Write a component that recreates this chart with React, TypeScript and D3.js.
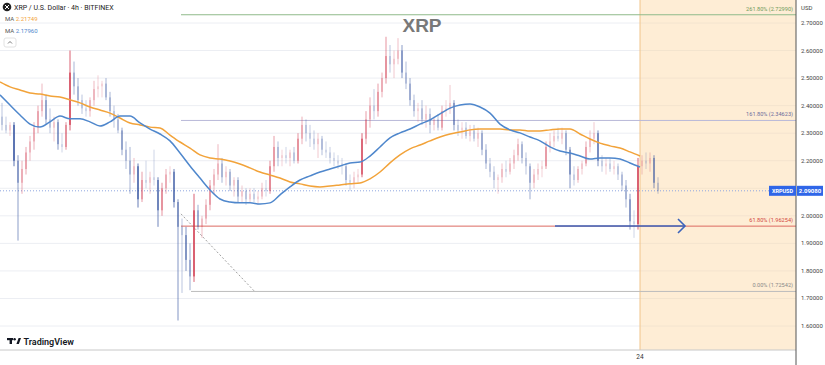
import * as d3 from "d3";
import { useEffect } from "react";

// 4h candles, oldest first: [open, high, low, close]
const candles: [number, number, number, number][] = [
  [2.36, 2.41, 2.31, 2.33], [2.33, 2.36, 2.30, 2.31], [2.31, 2.34, 2.29, 2.33], [2.33, 2.34, 2.18, 2.20], [2.20, 2.22, 1.91, 2.12],
  [2.12, 2.20, 2.08, 2.17], [2.17, 2.25, 2.15, 2.23], [2.23, 2.29, 2.20, 2.27], [2.27, 2.34, 2.24, 2.32], [2.32, 2.40, 2.30, 2.38],
  [2.38, 2.48, 2.36, 2.42], [2.42, 2.44, 2.33, 2.35], [2.35, 2.39, 2.30, 2.32], [2.32, 2.36, 2.27, 2.34], [2.34, 2.35, 2.24, 2.26],
  [2.26, 2.30, 2.23, 2.25], [2.25, 2.34, 2.24, 2.33], [2.33, 2.60, 2.31, 2.52], [2.52, 2.56, 2.44, 2.47], [2.47, 2.50, 2.40, 2.42],
  [2.42, 2.44, 2.37, 2.39], [2.39, 2.42, 2.36, 2.38], [2.38, 2.43, 2.36, 2.42], [2.42, 2.49, 2.40, 2.46], [2.46, 2.51, 2.43, 2.47],
  [2.47, 2.49, 2.43, 2.48], [2.48, 2.50, 2.42, 2.43], [2.43, 2.45, 2.36, 2.38], [2.38, 2.40, 2.32, 2.35], [2.35, 2.37, 2.30, 2.31],
  [2.31, 2.32, 2.22, 2.24], [2.24, 2.27, 2.17, 2.20], [2.20, 2.25, 2.08, 2.15], [2.15, 2.21, 2.12, 2.18], [2.18, 2.19, 2.03, 2.06],
  [2.06, 2.16, 2.05, 2.13], [2.13, 2.20, 2.10, 2.12], [2.12, 2.16, 2.08, 2.14], [2.14, 2.24, 2.11, 2.13], [2.13, 2.14, 1.96, 2.02],
  [2.02, 2.12, 2.00, 2.10], [2.10, 2.17, 2.08, 2.15], [2.15, 2.18, 2.12, 2.16], [2.16, 2.17, 2.03, 2.05], [2.05, 2.06, 1.62, 1.96],
  [1.96, 1.99, 1.72, 1.93], [1.93, 1.96, 1.80, 1.84], [1.84, 1.90, 1.73, 1.78], [1.78, 2.08, 1.76, 2.02], [2.02, 2.04, 1.95, 1.96],
  [1.96, 2.00, 1.92, 1.99], [1.99, 2.06, 1.97, 2.04], [2.04, 2.13, 2.02, 2.11], [2.11, 2.17, 2.08, 2.15], [2.15, 2.26, 2.13, 2.19],
  [2.19, 2.21, 2.12, 2.14], [2.14, 2.18, 2.11, 2.16], [2.16, 2.17, 2.09, 2.11], [2.11, 2.14, 2.07, 2.13], [2.13, 2.14, 2.05, 2.07],
  [2.07, 2.11, 2.05, 2.09], [2.09, 2.10, 2.04, 2.06], [2.06, 2.10, 2.05, 2.08], [2.08, 2.10, 2.05, 2.06], [2.06, 2.09, 2.04, 2.07],
  [2.07, 2.12, 2.06, 2.10], [2.10, 2.13, 2.07, 2.09], [2.09, 2.20, 2.08, 2.18], [2.18, 2.29, 2.16, 2.25], [2.25, 2.27, 2.18, 2.21],
  [2.21, 2.24, 2.18, 2.22], [2.22, 2.25, 2.19, 2.21], [2.21, 2.24, 2.18, 2.23], [2.23, 2.25, 2.19, 2.20], [2.20, 2.30, 2.19, 2.28],
  [2.28, 2.36, 2.26, 2.33], [2.33, 2.35, 2.27, 2.30], [2.30, 2.33, 2.25, 2.28], [2.28, 2.31, 2.24, 2.26], [2.26, 2.30, 2.21, 2.28],
  [2.28, 2.29, 2.22, 2.24], [2.24, 2.27, 2.21, 2.23], [2.23, 2.25, 2.19, 2.21], [2.21, 2.23, 2.18, 2.20], [2.20, 2.22, 2.17, 2.19],
  [2.19, 2.21, 2.15, 2.18], [2.18, 2.19, 2.11, 2.13], [2.13, 2.15, 2.09, 2.12], [2.12, 2.16, 2.10, 2.14], [2.14, 2.17, 2.12, 2.15],
  [2.15, 2.30, 2.14, 2.28], [2.28, 2.38, 2.26, 2.35], [2.35, 2.43, 2.32, 2.40], [2.40, 2.46, 2.35, 2.38], [2.38, 2.48, 2.36, 2.45],
  [2.45, 2.52, 2.43, 2.50], [2.50, 2.65, 2.48, 2.58], [2.58, 2.62, 2.52, 2.55], [2.55, 2.60, 2.50, 2.57], [2.57, 2.645, 2.55, 2.60],
  [2.60, 2.62, 2.50, 2.52], [2.52, 2.56, 2.46, 2.48], [2.48, 2.50, 2.40, 2.42], [2.42, 2.44, 2.36, 2.38], [2.38, 2.41, 2.34, 2.39],
  [2.39, 2.42, 2.33, 2.35], [2.35, 2.40, 2.32, 2.37], [2.37, 2.39, 2.30, 2.33], [2.33, 2.36, 2.31, 2.35], [2.35, 2.37, 2.31, 2.32],
  [2.32, 2.40, 2.31, 2.38], [2.38, 2.42, 2.36, 2.39], [2.39, 2.475, 2.37, 2.41], [2.41, 2.42, 2.31, 2.33], [2.33, 2.35, 2.29, 2.31],
  [2.31, 2.34, 2.28, 2.32], [2.32, 2.34, 2.28, 2.29], [2.29, 2.33, 2.27, 2.31], [2.31, 2.33, 2.27, 2.28], [2.28, 2.32, 2.25, 2.30],
  [2.30, 2.31, 2.22, 2.24], [2.24, 2.26, 2.17, 2.19], [2.19, 2.21, 2.14, 2.16], [2.16, 2.18, 2.10, 2.13], [2.13, 2.15, 2.08, 2.14],
  [2.14, 2.19, 2.12, 2.17], [2.17, 2.20, 2.14, 2.16], [2.16, 2.21, 2.15, 2.19], [2.19, 2.24, 2.17, 2.22], [2.22, 2.28, 2.20, 2.26],
  [2.26, 2.27, 2.19, 2.21], [2.21, 2.23, 2.15, 2.18], [2.18, 2.19, 2.06, 2.12], [2.12, 2.17, 2.10, 2.15], [2.15, 2.19, 2.13, 2.17],
  [2.17, 2.20, 2.14, 2.18], [2.18, 2.27, 2.17, 2.25], [2.25, 2.30, 2.23, 2.27], [2.27, 2.31, 2.25, 2.29], [2.29, 2.32, 2.27, 2.28],
  [2.28, 2.32, 2.26, 2.30], [2.30, 2.31, 2.22, 2.24], [2.24, 2.25, 2.10, 2.15], [2.15, 2.18, 2.11, 2.13], [2.13, 2.18, 2.12, 2.17],
  [2.17, 2.20, 2.15, 2.19], [2.19, 2.27, 2.18, 2.25], [2.25, 2.31, 2.23, 2.28], [2.28, 2.34, 2.26, 2.30], [2.30, 2.31, 2.18, 2.20],
  [2.20, 2.22, 2.16, 2.18], [2.18, 2.21, 2.15, 2.19], [2.19, 2.21, 2.16, 2.17], [2.17, 2.20, 2.15, 2.18], [2.18, 2.19, 2.13, 2.15],
  [2.15, 2.16, 2.09, 2.11], [2.11, 2.13, 2.03, 2.06], [2.06, 2.08, 1.95, 1.98], [1.98, 2.02, 1.92, 1.97], [1.97, 2.21, 1.95, 2.18],
  [2.18, 2.22, 2.15, 2.20], [2.20, 2.23, 2.17, 2.19], [2.19, 2.23, 2.16, 2.21], [2.21, 2.22, 2.10, 2.12], [2.12, 2.14, 2.08, 2.09],
];

// moving averages, one reading every 2.5 candles
const maSlow = [
  2.486, 2.468, 2.457, 2.446, 2.442, 2.435, 2.431, 2.421, 2.410, 2.395,
  2.384, 2.373, 2.355, 2.337, 2.330, 2.322, 2.319, 2.293, 2.268, 2.246,
  2.221, 2.210, 2.206, 2.199, 2.188, 2.174, 2.159, 2.148, 2.137, 2.123,
  2.116, 2.108, 2.105, 2.108, 2.112, 2.116, 2.119, 2.134, 2.159, 2.192,
  2.221, 2.243, 2.257, 2.272, 2.286, 2.297, 2.304, 2.312, 2.315, 2.315,
  2.315, 2.312, 2.312, 2.308, 2.308, 2.312, 2.315, 2.315, 2.297, 2.279,
  2.264, 2.254, 2.246, 2.232, 2.217,
];
const maFast = [
  2.439, 2.402, 2.366, 2.333, 2.322, 2.341, 2.362, 2.352, 2.352, 2.341,
  2.326, 2.341, 2.362, 2.362, 2.337, 2.315, 2.297, 2.272, 2.228, 2.181,
  2.137, 2.094, 2.061, 2.050, 2.047, 2.047, 2.043, 2.047, 2.076, 2.105,
  2.130, 2.145, 2.159, 2.170, 2.181, 2.192, 2.195, 2.217, 2.250, 2.283,
  2.301, 2.315, 2.333, 2.348, 2.370, 2.391, 2.402, 2.406, 2.395, 2.373,
  2.333, 2.312, 2.301, 2.286, 2.272, 2.250, 2.235, 2.228, 2.217, 2.206,
  2.210, 2.210, 2.206, 2.192, 2.177,
];
const maLegend = ["2.21749", "2.17960"];

const priceTicks = [1.6, 1.7, 1.8, 1.9, 2.0, 2.1, 2.2, 2.3, 2.4, 2.5, 2.6, 2.7];
const timeTicks = [{ index: 159.5, label: "24" }];
const sessionStart = 159.5;

const lastPrice = 2.0908;

const fibNames = ["261.80%", "161.80%", "61.80%", "0.00%"];
const fibValues = [2.7299, 2.34623, 1.96254, 1.72542];
const fibStart = [44.75, 44.75, 44.75, 47.25];

const trendLine = [
  [44.75, 2.007],
  [63.25, 1.724],
];
const arrowLevel = 1.963;
const arrowSpan = [138.25, 170.75];

export default function App() {
  useEffect(() => {
    document.body.style.margin = "0";
  }, []);

  const W = 825;
  const H = 365;
  const plotR = 796;
  const plotB = 350;

  const x = d3.scaleLinear().domain([0, 164]).range([2, 658]);
  const y = d3.scaleLinear().domain([1.6, 2.7]).range([326, 23]);

  const maLine = d3
    .line<number>()
    .x((d, i) => x(i * 2.5 - 0.5))
    .y((d) => y(d))
    .curve(d3.curveMonotoneX);

  const fmt = d3.format(".5f");
  const font = "Roboto, 'Noto Sans', sans-serif";
  const fibStroke = ["#8fba8a", "#b8b8d8", "#dc6a62", "#bdbdbd"];
  const fibText = ["#6e9a5a", "#6c6c9c", "#d2463e", "#8a8a8a"];
  const ty = y(lastPrice);

  return (
    <svg width={W} height={H} style={{ display: "block", fontFamily: font }}>
      <rect width={W} height={H} fill="#fff" />

      {/* grid */}
      {priceTicks.map((p) => (
        <line key={p} x1={0} x2={plotR} y1={y(p)} y2={y(p)} stroke="#eceef3" />
      ))}

      {/* session shading */}
      <rect x={x(sessionStart)} y={0} width={plotR - x(sessionStart)} height={plotB} fill="#fcd6a2" opacity={0.45} />
      <line x1={x(sessionStart)} x2={x(sessionStart)} y1={0} y2={plotB} stroke="#f0c48a" />

      {/* fib levels */}
      {fibValues.map((v, i) => (
        <g key={v}>
          <line x1={x(fibStart[i])} x2={plotR} y1={y(v)} y2={y(v)} stroke={fibStroke[i]} strokeWidth={1} />
          <text x={plotR - 3} y={y(v) - 4} textAnchor="end" fontSize={5.6} fill={fibText[i]}>
            {fibNames[i]} ({v.toFixed(5)})
          </text>
        </g>
      ))}

      <line
        x1={x(trendLine[0][0])}
        y1={y(trendLine[0][1])}
        x2={x(trendLine[1][0])}
        y2={y(trendLine[1][1])}
        stroke="#a0a0a0"
        strokeDasharray="2,2"
      />

      {/* last price line */}
      <line x1={0} x2={plotR} y1={ty} y2={ty} stroke="#8ea6e0" strokeDasharray="1,2" />

      {/* candles */}
      {candles.map(([o, h, l, c], i) => {
        const up = c >= o;
        const col = up ? "#d23a50" : "#2c4c9c";
        const op = Math.min(0.8, 0.18 + Math.abs(c - o) * 4.5);
        const cx = x(i);
        const top = y(Math.max(o, c));
        const bh = Math.max(1, y(Math.min(o, c)) - top);
        return (
          <g key={i} opacity={op}>
            <line x1={cx} x2={cx} y1={y(h)} y2={y(l)} stroke={col} strokeWidth={1} />
            <rect x={cx - 1} y={top} width={2} height={bh} fill={col} />
          </g>
        );
      })}

      {/* moving averages */}
      <path d={maLine(maSlow) ?? ""} fill="none" stroke="#f2a33a" strokeWidth={1.5} />
      <path d={maLine(maFast) ?? ""} fill="none" stroke="#4f87cc" strokeWidth={1.5} />

      {/* arrow */}
      <g stroke="#3c64bc" strokeWidth={1.6} fill="none">
        <line x1={x(arrowSpan[0])} x2={x(arrowSpan[1])} y1={y(arrowLevel)} y2={y(arrowLevel)} />
        <path
          d={`M${x(arrowSpan[1]) - 7},${y(arrowLevel) - 7}L${x(arrowSpan[1])},${y(arrowLevel)}L${x(arrowSpan[1]) - 7},${y(arrowLevel) + 7}`}
        />
      </g>

      {/* title */}
      <text x={422} y={32} textAnchor="middle" fontSize={19} fontWeight={700} fill="#787878" fontFamily="'Liberation Sans', Arial, sans-serif">
        XRP
      </text>

      {/* axes */}
      <line x1={0} x2={plotR} y1={plotB} y2={plotB} stroke="#c8c8c8" />
      <line x1={plotR} x2={plotR} y1={0} y2={H} stroke="#555" />
      {priceTicks
        .filter((p) => Math.abs(y(p) - ty) > 8)
        .map((p) => (
          <text key={p} x={801} y={y(p) + 2} fontSize={6} fill="#444">
            {fmt(p)}
          </text>
        ))}
      <text x={801} y={10} fontSize={6} fill="#444">
        USD
      </text>
      {timeTicks.map((t) => (
        <text key={t.label} x={x(t.index)} y={359} fontSize={6.5} fill="#333" textAnchor="middle">
          {t.label}
        </text>
      ))}

      {/* last price label */}
      <rect x={769} y={ty - 5} width={27} height={10} fill="#2f66e8" />
      <rect x={797} y={ty - 5} width={26} height={10} fill="#2f66e8" />
      <text x={782.5} y={ty + 2} fontSize={5.5} fill="#fff" textAnchor="middle" fontWeight={700}>
        XRPUSD
      </text>
      <text x={810} y={ty + 2} fontSize={6} fill="#fff" textAnchor="middle" fontWeight={700}>
        {lastPrice.toFixed(5)}
      </text>

      {/* legend */}
      <circle cx={7} cy={7} r={4.3} fill="#222" />
      <path d="M5,5L9,9M9,5L5,9" stroke="#fff" strokeWidth={1} />
      <text x={14} y={10} fontSize={7} fill="#222">
        XRP / U.S. Dollar · 4h · BITFINEX
      </text>
      <text x={5} y={21} fontSize={6} fill="#555">
        MA <tspan fill="#f2a33a">{maLegend[0]}</tspan>
      </text>
      <text x={5} y={33} fontSize={6} fill="#555">
        MA <tspan fill="#4f87cc">{maLegend[1]}</tspan>
      </text>
      <rect x={4} y={38} width={12} height={9} rx={2} fill="#fff" stroke="#e2e2e2" />
      <path d="M8,43.5L10,41.5L12,43.5" stroke="#555" fill="none" strokeWidth={0.8} />

      {/* logo */}
      <g fill="#131722">
        <rect x={7} y={338} width={6} height={2.2} />
        <rect x={9.6} y={338} width={2.4} height={6} />
        <circle cx={14.6} cy={339.2} r={1.2} />
        <path d="M16.4,344L18.6,338L21,338L18.8,344Z" />
      </g>
      <text x={23.5} y={344.5} fontSize={9} fontWeight={600} fill="#131722">
        TradingView
      </text>
    </svg>
  );
}
